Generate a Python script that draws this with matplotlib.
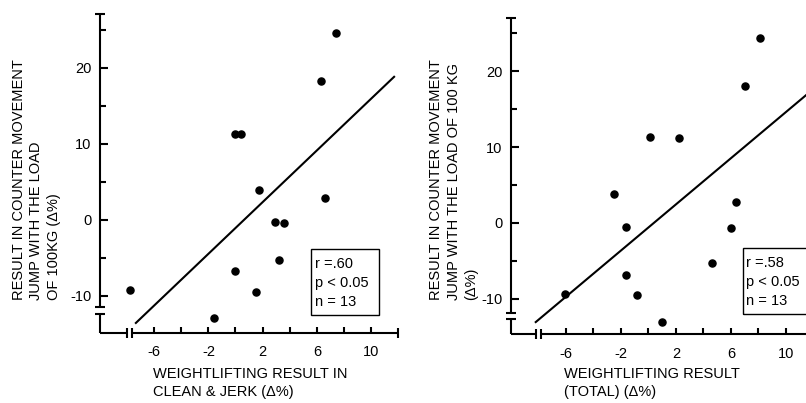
import matplotlib
matplotlib.use("Agg")
import matplotlib.pyplot as plt
from matplotlib.patches import Rectangle

plt.rcParams["font.family"] = ["Liberation Sans", "DejaVu Sans"]
plt.rcParams["font.size"] = 10.5
plt.rcParams["axes.unicode_minus"] = False

# left panel: clean & jerk
cj_x = [7.4, 6.3, 0.0, 0.4, 1.7, 6.6, 2.9, 3.6, 3.2, 0.0, 1.5, -7.8, -1.6]
cj_y = [24.5, 18.2, 11.3, 11.3, 3.9, 2.8, -0.3, -0.4, -5.3, -6.8, -9.5, -9.3, -12.9]
cj_fit_slope = 1.70
cj_fit_intercept = -1.1
cj_fit_xrange = [-7.35, 11.7]
cj_stats = ["r =.60", "p < 0.05", "n = 13"]

# right panel: total
tot_x = [8.1, 7.0, 0.1, 2.2, -2.5, 6.4, -1.6, 6.0, 4.6, -1.6, -0.8, -6.05, 1.0]
tot_y = [24.4, 18.1, 11.3, 11.2, 3.8, 2.8, -0.5, -0.6, -5.3, -6.9, -9.5, -9.3, -13.0]
tot_fit_slope = 1.52
tot_fit_intercept = -0.6
tot_fit_xrange = [-8.2, 12.0]
tot_stats = ["r =.58", "p < 0.05", "n = 13"]

x_major = [-6, -2, 2, 6, 10]
x_minor = [-4, 0, 4, 8]
y_major = [-10, 0, 10, 20]
y_minor = [-5, 5, 15, 25]

ylabel_cj = "RESULT IN COUNTER MOVEMENT\nJUMP WITH THE LOAD\nOF 100KG (\u0394%)"
ylabel_tot = "RESULT IN COUNTER MOVEMENT\nJUMP WITH THE LOAD OF 100 KG\n(\u0394%)"
xlabel_cj = "WEIGHTLIFTING RESULT IN\nCLEAN & JERK (\u0394%)"
xlabel_tot = "WEIGHTLIFTING RESULT\n(TOTAL) (\u0394%)"

fig = plt.figure(figsize=(8.06, 4.03), dpi=100)

LW = 1.5


def panel(rect, xs, ys, slope, icpt, xr, stats, lims, xbreak, ybreak, box):
    ax = fig.add_axes(rect)
    x0, x1, y0, y1 = lims
    ax.set_xlim(x0, x1)
    ax.set_ylim(y0, y1)
    for s in ax.spines.values():
        s.set_visible(False)

    ax.set_xticks(x_major)
    ax.set_xticks(x_minor, minor=True)
    ax.set_yticks(y_major)
    ax.set_yticks(y_minor, minor=True)
    ax.tick_params(axis="x", which="both", direction="in", length=4, width=LW, pad=9)
    ax.tick_params(axis="y", which="major", direction="in", length=6, width=LW, pad=6)
    ax.tick_params(axis="y", which="minor", direction="in", length=4.5, width=LW)

    kw = dict(color="k", lw=LW, clip_on=False, solid_capstyle="butt")
    # y axis with break
    ax.plot([x0, x0], [ybreak[1], 27.0], **kw)
    ax.plot([x0, x0], [y0, ybreak[0]], **kw)
    # x axis with break
    ax.plot([x0, xbreak[0]], [y0, y0], **kw)
    ax.plot([xbreak[1], 12.0], [y0, y0], **kw)
    mk = dict(color="k", mew=LW, ms=7, clip_on=False, ls="none")
    ax.plot([x0, x0, x0], [27.0, ybreak[1], ybreak[0]], marker="_", **mk)
    ax.plot([xbreak[0], xbreak[1], 12.0], [y0, y0, y0], marker="|", **mk)

    ax.scatter(xs, ys, s=26, color="k", zorder=3, clip_on=False)
    fx = list(xr)
    fy = [slope * v + icpt for v in fx]
    ax.plot(fx, fy, color="k", lw=LW, clip_on=False)

    bx0, by0, bx1, by1 = box
    ax.add_patch(Rectangle((bx0, by0), bx1 - bx0, by1 - by0, fill=False,
                           ec="k", lw=1.0, clip_on=False))
    ax.text(bx0 + 0.25, by1 - 1.1, "\n".join(stats), ha="left", va="top",
            linespacing=1.45)
    return ax


panel([0.124, 0.174, 0.370, 0.794], cj_x, cj_y, cj_fit_slope, cj_fit_intercept,
      cj_fit_xrange, cj_stats, (-10, 12, -14.9, 27.2), (-8.0, -7.65), (-12.4, -11.5),
      (5.6, -12.5, 10.55, -3.8))
panel([0.634, 0.170, 0.375, 0.787], tot_x, tot_y, tot_fit_slope, tot_fit_intercept,
      tot_fit_xrange, tot_stats, (-10, 12, -14.7, 27.1), (-8.15, -7.8), (-12.6, -11.9),
      (6.85, -12.0, 12.5, -3.3))

fig.text(0.045, 0.255, ylabel_cj, rotation=90, ha="center", va="bottom",
         multialignment="left", linespacing=1.3)
fig.text(0.563, 0.255, ylabel_tot, rotation=90, ha="center", va="bottom",
         multialignment="left", linespacing=1.3)
fig.text(153 / 806, 1 - 367 / 403, xlabel_cj, ha="left", va="top", linespacing=1.4)
fig.text(564 / 806, 1 - 367 / 403, xlabel_tot, ha="left", va="top", linespacing=1.4)

fig.savefig("out.png", dpi=100)
